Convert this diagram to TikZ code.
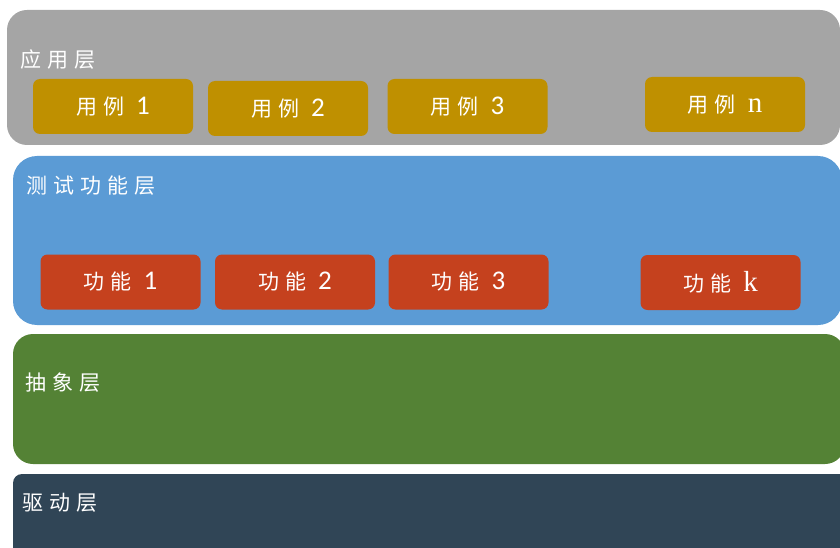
\documentclass[tikz,border=0pt]{standalone}
\usepackage{fontspec}
\newfontfamily\cjk{Noto Sans CJK SC}
\newfontfamily\digitfont{Carlito}
\newfontfamily\letterfont{Liberation Serif}
\definecolor{laygray}{HTML}{A5A5A5}
\definecolor{layblue}{HTML}{5B9BD5}
\definecolor{laygreen}{HTML}{548235}
\definecolor{laydark}{HTML}{304556}
\definecolor{boxgold}{HTML}{BF9000}
\definecolor{boxred}{HTML}{C5411E}
\newcommand{\cs}{\hspace{6pt}}
\newcommand{\zh}[1]{{\cjk\fontsize{21}{24}\selectfont #1}}
\newcommand{\dg}[1]{{\digitfont\fontsize{27}{29}\selectfont #1}}
\newcommand{\lt}[1]{{\letterfont\fontsize{29}{31}\selectfont #1}}
\tikzset{
  layer/.style={draw=none, rectangle, rounded corners=#1, inner sep=0pt},
  itembox/.style={draw=none, rectangle, rounded corners=7pt, minimum width=160pt, minimum height=55pt, inner sep=0pt, text=white},
  laylabel/.style={anchor=west, inner sep=0pt, text=white},
}
\begin{document}
\begin{tikzpicture}[x=1pt, y=-1pt]
\useasboundingbox (0,0) rectangle (840,548);
\clip (0,0) rectangle (840,548);
% layers
\node[layer=20pt, fill=laygray, minimum width=833pt, minimum height=135pt] (app) at (423.5,77.5) {};
\node[layer=24pt, fill=layblue, minimum width=829pt, minimum height=169pt] (func) at (427.5,240.5) {};
\node[layer=20pt, fill=laygreen, minimum width=832pt, minimum height=130pt] (abs) at (429,399) {};
\node[layer=9pt, fill=laydark, minimum width=847pt, minimum height=96pt] (drv) at (436.5,522) {};
% layer labels
\node[laylabel] (appl) at (20,60) {\zh{应\cs 用\cs 层}};
\node[laylabel] (funcl) at (26,186) {\zh{测\cs 试\cs 功\cs 能\cs 层}};
\node[laylabel] (absl) at (25,383) {\zh{抽\cs 象\cs 层}};
\node[laylabel] (drvl) at (22,503) {\zh{驱\cs 动\cs 层}};
% use cases
\node[itembox, fill=boxgold] (u1) at (113,106.5) {\zh{用\cs 例}\hspace{12pt}\dg{1}};
\node[itembox, fill=boxgold] (u2) at (288,108.5) {\zh{用\cs 例}\hspace{12pt}\dg{2}};
\node[itembox, fill=boxgold] (u3) at (467.5,106.5) {\zh{用\cs 例}\hspace{12pt}\dg{3}};
\node[itembox, fill=boxgold] (un) at (725,104.5) {\zh{用\cs 例}\hspace{12pt}\lt{n}};
% functions
\node[itembox, fill=boxred] (f1) at (120.5,282) {\zh{功\cs 能}\hspace{12pt}\dg{1}};
\node[itembox, fill=boxred] (f2) at (295,282) {\zh{功\cs 能}\hspace{12pt}\dg{2}};
\node[itembox, fill=boxred] (f3) at (468.5,282) {\zh{功\cs 能}\hspace{12pt}\dg{3}};
\node[itembox, fill=boxred] (fk) at (720.5,282.5) {\zh{功\cs 能}\hspace{12pt}\lt{k}};
\end{tikzpicture}
\end{document}
